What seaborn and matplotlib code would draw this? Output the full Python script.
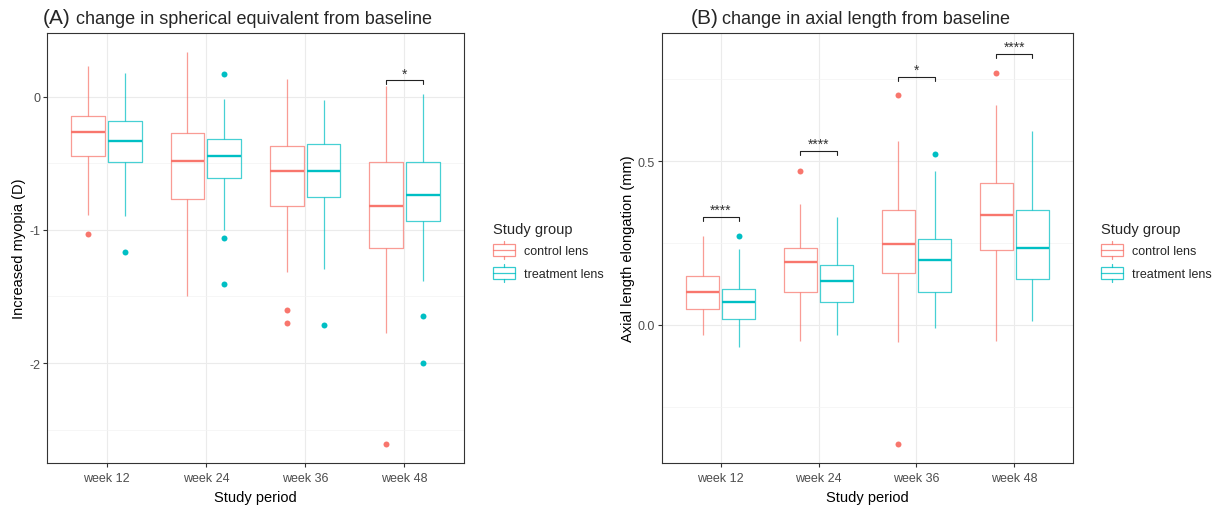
import numpy as np
import pandas as pd
import matplotlib
matplotlib.use("Agg")
import matplotlib.pyplot as plt
import seaborn as sns
from matplotlib.patches import Patch, Rectangle
from matplotlib.lines import Line2D
from matplotlib.legend_handler import HandlerBase
from matplotlib.ticker import MultipleLocator, FormatStrFormatter

sns.set_theme(style="white")
plt.rcParams["font.family"] = ["Liberation Sans", "DejaVu Sans"]
plt.rcParams["axes.unicode_minus"] = False

weeks = ["week 12", "week 24", "week 36", "week 48"]
groups = ["control lens", "treatment lens"]
colors = ["#F8766D", "#00BFC4"]

# (A) change in spherical equivalent, box summaries
se_ctrl_lo = [-0.887, -1.497, -1.313, -1.773]
se_ctrl_q1 = [-0.447, -0.770, -0.822, -1.135]
se_ctrl_med = [-0.267, -0.482, -0.557, -0.818]
se_ctrl_q3 = [-0.145, -0.275, -0.370, -0.488]
se_ctrl_hi = [0.233, 0.333, 0.133, 0.083]
se_ctrl_out = [[-1.028], [], [-1.60, -1.70], [-2.608]]

se_trt_lo = [-0.893, -0.998, -1.293, -1.383]
se_trt_q1 = [-0.488, -0.610, -0.755, -0.930]
se_trt_med = [-0.330, -0.443, -0.557, -0.735]
se_trt_q3 = [-0.185, -0.320, -0.357, -0.488]
se_trt_hi = [0.178, -0.020, -0.027, 0.023]
se_trt_out = [[-1.163], [0.168, -1.058, -1.403], [-1.715], [-1.645, -1.998]]

se_sig = [None, None, None, "*"]
se_sig_y = [None, None, None, 0.123]

# (B) change in axial length
al_ctrl_lo = [-0.030, -0.050, -0.051, -0.050]
al_ctrl_q1 = [0.050, 0.100, 0.159, 0.230]
al_ctrl_med = [0.102, 0.191, 0.248, 0.337]
al_ctrl_q3 = [0.150, 0.235, 0.351, 0.434]
al_ctrl_hi = [0.272, 0.370, 0.561, 0.671]
al_ctrl_out = [[], [0.469], [0.702, -0.364], [0.770]]

al_trt_lo = [-0.069, -0.030, -0.010, 0.011]
al_trt_q1 = [0.019, 0.069, 0.100, 0.139]
al_trt_med = [0.070, 0.135, 0.197, 0.235]
al_trt_q3 = [0.109, 0.184, 0.262, 0.351]
al_trt_hi = [0.231, 0.330, 0.469, 0.592]
al_trt_out = [[0.271], [], [0.522], []]

al_sig = ["****", "****", "*", "****"]
al_sig_y = [0.330, 0.532, 0.757, 0.828]


def expand(lo, q1, med, q3, hi, out, reps=30):
    # a sample whose quartiles / whiskers / fliers give back the summary
    return [lo] + [q1] * reps + [med] * reps + [q3] * reps + [hi] + list(out)


def make_df(ctrl, trt):
    rows = []
    for g, summ in zip(groups, [ctrl, trt]):
        for i, w in enumerate(weeks):
            vals = expand(*[s[i] for s in summ])
            rows += [(w, g, v) for v in vals]
    return pd.DataFrame(rows, columns=["week", "group", "value"])


class BoxKey(HandlerBase):
    def create_artists(self, legend, orig, xd, yd, width, height, fontsize, trans):
        c = orig.get_edgecolor()
        x0, y0 = -xd, -yd
        kw = dict(color=c, lw=0.9, alpha=0.8, transform=trans)
        box = Rectangle((x0, y0 + 0.17 * height), width, 0.66 * height,
                        fill=False, ec=c, lw=0.9, alpha=0.8, transform=trans)
        med = Line2D([x0, x0 + width], [y0 + 0.5 * height] * 2, **kw)
        top = Line2D([x0 + width / 2] * 2, [y0 + 0.83 * height, y0 + height], **kw)
        bot = Line2D([x0 + width / 2] * 2, [y0, y0 + 0.17 * height], **kw)
        return [box, med, top, bot]


def panel(ax, df, ylim, major, minor, fmt, ylabel, sig, sig_y):
    sns.boxplot(data=df, x="week", y="value", hue="group", order=weeks,
                hue_order=groups, palette=colors, fill=False, width=0.74,
                gap=0.08, showcaps=False, linewidth=0.9, fliersize=4.3,
                whis=1.5, legend=False, ax=ax)
    for ln in ax.lines:
        xd, yd = ln.get_data()
        if ln.get_marker() not in (None, "", "None"):
            ln.set_markerfacecolor(ln.get_markeredgecolor())
            ln.set_markeredgewidth(0)
        elif len(xd) == 2 and yd[0] == yd[1]:
            ln.set_linewidth(1.7)
        else:
            ln.set_alpha(0.72)

    ax.set_xlim(-0.6, 3.6)
    ax.set_ylim(*ylim)
    ax.yaxis.set_major_locator(MultipleLocator(major))
    ax.yaxis.set_minor_locator(MultipleLocator(minor))
    ax.yaxis.set_major_formatter(FormatStrFormatter(fmt))
    ax.grid(True, which="major", color="#EBEBEB", lw=0.8)
    ax.grid(True, which="minor", axis="y", color="#F3F3F3", lw=0.5)
    ax.set_axisbelow(True)
    for sp in ax.spines.values():
        sp.set_visible(True)
        sp.set_color("#333333")
        sp.set_linewidth(0.8)
    ax.tick_params(which="major", length=3, width=0.8, color="#333333",
                   labelcolor="#4D4D4D", labelsize=9, pad=2,
                   bottom=True, left=True)
    ax.tick_params(axis="x", which="major", pad=3.5)
    ax.tick_params(which="minor", length=0)
    ax.set_xlabel("Study period", fontsize=10.5, color="black", labelpad=4.5)
    ax.set_ylabel(ylabel, fontsize=10.5, color="black", labelpad=2)

    tick = 0.0093 * (ylim[1] - ylim[0])
    for i, (lab, y) in enumerate(zip(sig, sig_y)):
        if lab is None:
            continue
        x1, x2 = i - 0.185, i + 0.185
        ax.plot([x1, x1, x2, x2], [y - tick, y, y, y - tick],
                color="#222222", lw=0.8)
        ax.text(i, y, lab, ha="center", va="bottom", fontsize=10,
                color="#333333")

    handles = [Patch(edgecolor=c, facecolor="none") for c in colors]
    ax.legend(handles, groups, title="Study group", loc="center left",
              bbox_to_anchor=(1.054, 0.49), frameon=False, borderpad=0,
              handler_map={Patch: BoxKey()}, fontsize=9,
              title_fontsize=10.5, handlelength=1.76, handleheight=1.85,
              handletextpad=0.7, labelspacing=0.4, alignment="left")


fig = plt.figure(figsize=(12.13, 5.06), dpi=100)
W, H = 1213, 506
ax_a = fig.add_axes([47 / W, 42 / H, 417 / W, 430 / H])
ax_b = fig.add_axes([662 / W, 42 / H, 411 / W, 430 / H])

se_df = make_df([se_ctrl_lo, se_ctrl_q1, se_ctrl_med, se_ctrl_q3, se_ctrl_hi, se_ctrl_out],
                [se_trt_lo, se_trt_q1, se_trt_med, se_trt_q3, se_trt_hi, se_trt_out])
al_df = make_df([al_ctrl_lo, al_ctrl_q1, al_ctrl_med, al_ctrl_q3, al_ctrl_hi, al_ctrl_out],
                [al_trt_lo, al_trt_q1, al_trt_med, al_trt_q3, al_trt_hi, al_trt_out])

panel(ax_a, se_df, (-2.75, 0.478), 1, 0.5, "%d", "Increased myopia (D)",
      se_sig, se_sig_y)
panel(ax_b, al_df, (-0.422, 0.892), 0.5, 0.25, "%.1f",
      "Axial length elongation (mm)", al_sig, al_sig_y)

base = 1 - 24 / H
fig.text(43 / W, base, "(A)", fontsize=15, va="baseline", ha="left")
fig.text(76 / W, base, "change in spherical equivalent from baseline",
         fontsize=13, va="baseline", ha="left")
fig.text(691 / W, base, "(B)", fontsize=15, va="baseline", ha="left")
fig.text(722 / W, base, "change in axial length from baseline",
         fontsize=13, va="baseline", ha="left")

fig.savefig("out.png", dpi=100, facecolor="white")
